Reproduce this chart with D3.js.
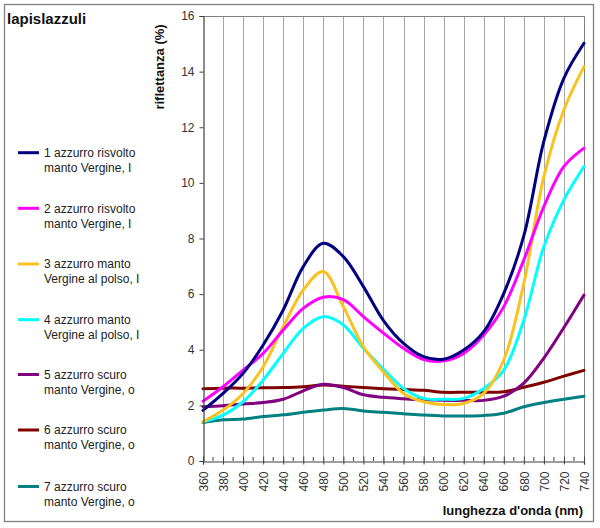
<!DOCTYPE html>
<html>
<head>
<meta charset="utf-8">
<script src="https://cdn.jsdelivr.net/npm/d3@7"></script>
<style>
  html, body { margin: 0; padding: 0; background: #fff; }
  svg { display: block; font-family: Arial, "Liberation Sans", sans-serif; }
</style>
</head>
<body>
<svg id="chart" width="600" height="528"></svg>
<script>
// ---- data ----
const wavelengths = [360, 380, 400, 420, 440, 460, 480, 500, 520, 540, 560, 580, 600, 620, 640, 660, 680, 700, 720, 740];
const s1 = [1.82, 2.43, 3.15, 4.17, 5.43, 6.99, 7.83, 7.35, 6.27, 5.05, 4.23, 3.75, 3.66, 3.99, 4.65, 6.03, 8.1, 11.5, 13.77, 15.02];
const s2 = [2.15, 2.67, 3.27, 3.87, 4.71, 5.49, 5.89, 5.8, 5.19, 4.6, 4.05, 3.65, 3.6, 3.87, 4.53, 5.55, 7.23, 9.15, 10.59, 11.25];
const s3 = [1.41, 1.83, 2.43, 3.39, 4.83, 6.15, 6.81, 5.55, 4.11, 3.2, 2.43, 2.13, 2.03, 2.07, 2.43, 3.63, 6.39, 10.23, 12.63, 14.18];
const s4 = [1.41, 1.65, 2.13, 2.91, 3.87, 4.77, 5.19, 4.89, 4.05, 3.3, 2.61, 2.25, 2.22, 2.25, 2.61, 3.27, 5.07, 7.71, 9.39, 10.59];
const s5 = [1.95, 1.99, 2.05, 2.1, 2.22, 2.52, 2.76, 2.64, 2.38, 2.29, 2.24, 2.2, 2.18, 2.18, 2.18, 2.33, 2.8, 3.7, 4.8, 5.97];
const s6 = [2.6, 2.62, 2.62, 2.63, 2.64, 2.67, 2.73, 2.69, 2.64, 2.6, 2.57, 2.54, 2.47, 2.47, 2.47, 2.49, 2.65, 2.83, 3.05, 3.26];
const s7 = [1.38, 1.48, 1.51, 1.6, 1.66, 1.75, 1.83, 1.89, 1.8, 1.75, 1.7, 1.65, 1.62, 1.62, 1.64, 1.72, 1.95, 2.1, 2.22, 2.33];
const seriesValues = [s1, s2, s3, s4, s5, s6, s7];
const seriesLabels = [
  ["1 azzurro risvolto", "manto Vergine, I"],
  ["2 azzurro risvolto", "manto Vergine, I"],
  ["3 azzurro manto", "Vergine al polso, I"],
  ["4 azzurro manto", "Vergine al polso, I"],
  ["5 azzurro scuro", "manto Vergine, o"],
  ["6 azzurro scuro", "manto Vergine, o"],
  ["7 azzurro scuro", "manto Vergine, o"]
];
const seriesColors = ["#000080", "#ff00ff", "#f9c21f", "#00ffff", "#800080", "#800000", "#008080"];
const xTicks = d3.range(360, 741, 20);
const xMinorTicks = d3.range(370, 740, 20);
const yTicks = [0, 2, 4, 6, 8, 10, 12, 14, 16];
const chartTitle = "lapislazzuli";
const yTitle = "riflettanza (%)";
const xTitle = "lunghezza d'onda (nm)";

// ---- layout ----
const svg = d3.select("#chart");
const pL = 203, pR = 584, pT = 16, pB = 461;
const x = d3.scaleLinear().domain([360, 740]).range([pL, pR]);
const y = d3.scaleLinear().domain([0, 16]).range([pB, pT]);

// outer frame
svg.append("rect").attr("x", 4.5).attr("y", 4.5).attr("width", 589).attr("height", 517)
  .attr("fill", "#fff").attr("stroke", "#808080").attr("stroke-width", 1.3);

// gridlines
svg.append("g").selectAll("line").data(xTicks.filter(d => d > 360 && d < 740)).join("line")
  .attr("x1", d => Math.round(x(d)) + 0.5).attr("x2", d => Math.round(x(d)) + 0.5)
  .attr("y1", pT).attr("y2", pB)
  .attr("stroke", "#a6a6a6").attr("stroke-width", 1);

// plot-area border (top & right)
svg.append("path").attr("d", `M${pL},${pT + 0.5}H${pR + 0.5}V${pB}`)
  .attr("fill", "none").attr("stroke", "#808080").attr("stroke-width", 1);

// lines
const line = d3.line().x((d, i) => x(wavelengths[i])).y(d => y(d)).curve(d3.curveCatmullRom.alpha(0.5));
const order = [6, 5, 4, 3, 2, 1, 0];
svg.append("g").selectAll("path").data(order).join("path")
  .attr("d", k => line(seriesValues[k]))
  .attr("fill", "none").attr("stroke", k => seriesColors[k])
  .attr("stroke-width", 3).attr("stroke-linejoin", "round").attr("stroke-linecap", "round");

// y axis
const yAxis = d3.axisLeft(y).tickValues(yTicks).tickSize(4).tickPadding(5).tickFormat(d3.format("d"));
const gy = svg.append("g").attr("transform", `translate(${pL + 0.5},0)`).call(yAxis);
gy.select(".domain").attr("stroke", "#404040").attr("stroke-width", 1.2);
gy.selectAll(".tick line").attr("stroke", "#404040");
gy.selectAll(".tick text").attr("font-size", 12).attr("fill", "#333").attr("font-family", "Arial, 'Liberation Sans', sans-serif");

// x axis
const xAxis = d3.axisBottom(x).tickValues(xTicks).tickSize(3).tickPadding(6).tickFormat(d3.format("d"));
const gx = svg.append("g").attr("transform", `translate(0,${pB + 0.5})`).call(xAxis);
gx.select(".domain").attr("stroke", "#404040").attr("stroke-width", 1.2);
gx.selectAll(".tick line").attr("stroke", "#404040").attr("y1", -5);
gx.selectAll(".tick text")
  .attr("font-size", 12).attr("fill", "#333").attr("font-family", "Arial, 'Liberation Sans', sans-serif")
  .attr("transform", "rotate(-90)").attr("text-anchor", "end")
  .attr("x", -10).attr("y", 0).attr("dy", "0.35em");
svg.append("g").selectAll("line").data(xMinorTicks).join("line")
  .attr("x1", d => x(d)).attr("x2", d => x(d))
  .attr("y1", pB - 4).attr("y2", pB)
  .attr("stroke", "#404040");

// titles
svg.append("text").attr("x", 7).attr("y", 24).text(chartTitle)
  .attr("font-size", 15).attr("font-weight", "bold").attr("fill", "#111");
svg.append("text").attr("transform", "translate(164,67) rotate(-90)").attr("text-anchor", "middle")
  .text(yTitle).attr("font-size", 13).attr("font-weight", "bold").attr("fill", "#111");
svg.append("text").attr("x", 583).attr("y", 515).attr("text-anchor", "end")
  .text(xTitle).attr("font-size", 13).attr("font-weight", "bold").attr("fill", "#111");

// legend
const legY = [152.7, 208.3, 264, 319.7, 374.5, 430, 486.5];
const leg = svg.append("g").selectAll("g").data(d3.range(7)).join("g")
  .attr("transform", k => `translate(0,${legY[k]})`);
leg.append("line").attr("x1", 18).attr("x2", 39).attr("y1", 0).attr("y2", 0)
  .attr("stroke", k => seriesColors[k]).attr("stroke-width", 3);
leg.append("text").attr("x", 44).attr("y", 4.3).text(k => seriesLabels[k][0])
  .attr("font-size", 12).attr("fill", "#222");
leg.append("text").attr("x", 44).attr("y", 19.3).text(k => seriesLabels[k][1])
  .attr("font-size", 12).attr("fill", "#222");
</script>
</body>
</html>
